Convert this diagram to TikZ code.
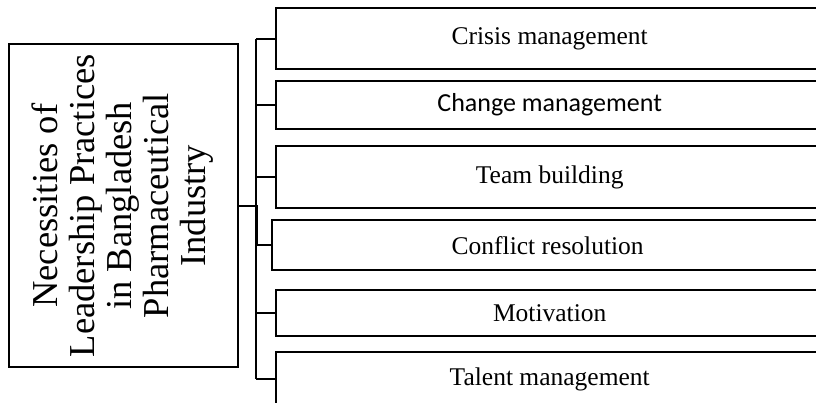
\documentclass[tikz,border=0pt]{standalone}
\usepackage{fontspec}
\setmainfont{Liberation Serif}
\newfontfamily\calibri{Carlito}
\begin{document}
\begin{tikzpicture}[x=1pt,y=-1pt,
  box/.style={draw, line width=2.4pt, rectangle, inner sep=0pt, anchor=north west,
              font=\fontsize{25.5}{28}\selectfont},
  conn/.style={line width=2.4pt}]
\clip (0,0) rectangle (816,402);
\node[box, minimum width=229pt, minimum height=323pt] (main) at (8,43) {};
\node[rotate=90, align=center, inner sep=0pt, font=\fontsize{36.5}{37}\selectfont] (maintext) at ([xshift=-1pt]main.center)
  {Necessities of\\Leadership Practices\\in Bangladesh\\Pharmaceutical\\Industry};
\node[box, minimum width=547pt, minimum height=61pt] (crisis) at (275,7) {Crisis management};
\node[box, minimum width=547pt, minimum height=48pt, font=\calibri\fontsize{26}{28}\selectfont] (change) at (275,80) {Change management};
\node[box, minimum width=547pt, minimum height=62pt] (team) at (275,145) {Team building};
\node[box, minimum width=551pt, minimum height=50pt] (conflict) at (271,219) {Conflict resolution};
\node[box, minimum width=547pt, minimum height=46pt] (motivation) at (275,289) {Motivation};
\node[box, minimum width=547pt, minimum height=54pt] (talent) at (275,351) {Talent management};
\draw[conn] ([xshift=-19pt]crisis.west) -- ([xshift=-19pt]talent.west);
\foreach \n in {crisis,change,team,motivation,talent}
  \draw[conn] (\n.west) -- ++(-19,0);
\draw[conn] (main.east) -- ++(17,0) |- (conflict.west);
\end{tikzpicture}
\end{document}
